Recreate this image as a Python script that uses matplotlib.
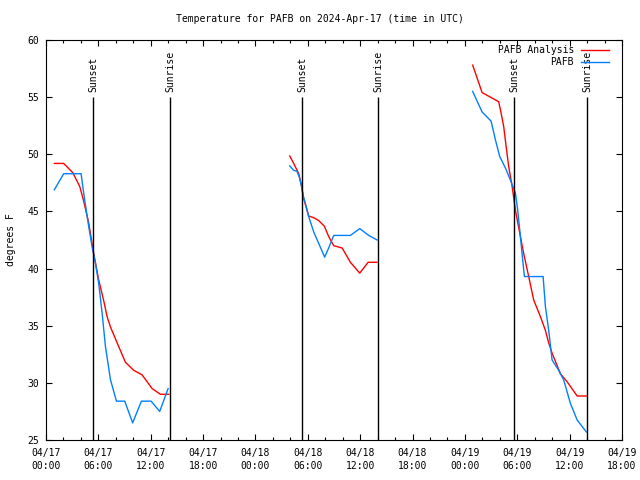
import matplotlib
matplotlib.use("Agg")
import matplotlib.pyplot as plt
import numpy as np

# time in hours since 2024-04-17 00:00 UTC
red_t1 = [0.96, 2.03, 3.06, 3.86, 4.32, 4.89, 5.47, 6.04, 6.61, 7.0, 7.38, 8.15, 9.1, 10.05, 11.01, 12.16, 13.11, 14.06]
red_v1 = [49.2, 49.2, 48.4, 47.2, 45.9, 44.0, 41.3, 39.0, 37.2, 35.8, 34.9, 33.5, 31.8, 31.1, 30.7, 29.5, 29.0, 29.0]
blue_t1 = [0.96, 2.03, 4.02, 4.32, 4.63, 4.89, 5.28, 5.66, 6.04, 6.43, 6.81, 7.38, 8.07, 9.02, 9.93, 10.93, 12.04, 13.03, 13.99]
blue_v1 = [46.9, 48.3, 48.3, 46.6, 45.0, 43.7, 41.9, 40.5, 38.7, 36.1, 33.2, 30.3, 28.4, 28.4, 26.5, 28.4, 28.4, 27.5, 29.5]

red_t2 = [27.93, 28.38, 28.96, 29.27, 29.53, 29.84, 30.1, 30.68, 31.25, 31.9, 32.39, 32.97, 33.93, 34.88, 35.95, 36.91, 37.94]
red_v2 = [49.85, 49.2, 48.3, 47.3, 46.1, 45.3, 44.6, 44.45, 44.2, 43.7, 42.8, 42.0, 41.8, 40.55, 39.6, 40.55, 40.55]
blue_t2 = [27.93, 28.38, 28.77, 29.07, 29.27, 29.46, 29.72, 30.1, 30.68, 31.25, 31.93, 32.39, 32.97, 34.88, 35.95, 36.98, 37.94]
blue_v2 = [48.98, 48.6, 48.5, 47.9, 47.2, 46.4, 45.7, 44.55, 43.2, 42.2, 41.0, 41.8, 42.9, 42.9, 43.5, 42.9, 42.5]

red_t3 = [48.89, 49.97, 51.87, 52.07, 52.45, 52.72, 53.02, 53.41, 53.79, 54.36, 54.74, 55.31, 55.88, 56.65, 57.22, 57.6, 57.99, 58.94, 59.71, 60.86, 61.92]
red_v3 = [57.8, 55.4, 54.6, 53.9, 52.4, 50.7, 48.9, 47.2, 45.1, 42.8, 41.3, 39.3, 37.25, 35.8, 34.6, 33.5, 32.6, 30.8, 30.1, 28.85, 28.85]
blue_t3 = [48.89, 49.97, 51.0, 51.5, 51.99, 52.64, 53.21, 53.79, 54.05, 54.36, 54.62, 54.82, 56.96, 57.22, 57.6, 57.99, 58.75, 59.32, 60.09, 60.86, 61.92]
blue_v3 = [55.5, 53.7, 52.9, 51.25, 49.8, 48.8, 47.75, 46.6, 45.1, 42.8, 40.75, 39.3, 39.3, 36.7, 34.6, 32.0, 31.1, 30.25, 28.2, 26.75, 25.7]

sunset_t = [5.43, 29.38, 53.67]
sunrise_t = [14.25, 38.09, 62.04]

xtick_hours = [0, 6, 12, 18, 24, 30, 36, 42, 48, 54, 60, 66]
xtick_labels = ["04/17\n00:00", "04/17\n06:00", "04/17\n12:00", "04/17\n18:00",
                "04/18\n00:00", "04/18\n06:00", "04/18\n12:00", "04/18\n18:00",
                "04/19\n00:00", "04/19\n06:00", "04/19\n12:00", "04/19\n18:00"]
yticks = [25, 30, 35, 40, 45, 50, 55, 60]

title = "Temperature for PAFB on 2024-Apr-17 (time in UTC)"

plt.rcParams['font.family'] = ['DejaVu Sans Mono']
fs = 7.0

fig = plt.figure(figsize=(6.4, 4.8), dpi=100)
ax = fig.add_axes([46/640, 40/480, 576/640, 400/480])

red = '#ff0000'
blue = '#0080ff'
for i, (rt, rv) in enumerate([(red_t1, red_v1), (red_t2, red_v2), (red_t3, red_v3)]):
    ax.plot(rt, rv, color=red, lw=1.0, label='PAFB Analysis' if i == 0 else None)
for i, (bt, bv) in enumerate([(blue_t1, blue_v1), (blue_t2, blue_v2), (blue_t3, blue_v3)]):
    ax.plot(bt, bv, color=blue, lw=1.0, label='PAFB' if i == 0 else None)

for t in sunset_t:
    ax.vlines(t, 25, 55.0, color='black', lw=1.0)
    ax.text(t, 55.45, 'Sunset', rotation=90, ha='center', va='bottom', fontsize=fs)
for t in sunrise_t:
    ax.vlines(t, 25, 55.0, color='black', lw=1.0)
    ax.text(t, 55.45, 'Sunrise', rotation=90, ha='center', va='bottom', fontsize=fs)

ax.set_xlim(0, 66)
ax.set_ylim(25, 60)
ax.set_xticks(xtick_hours)
ax.set_xticklabels(xtick_labels, fontsize=fs, linespacing=1.3)
ax.set_xticks(np.arange(0, 67, 2), minor=True)
ax.set_yticks(yticks)
ax.set_yticklabels([str(v) for v in yticks], fontsize=fs)
ax.tick_params(which='both', direction='in', top=True, right=True, width=0.8)
ax.tick_params(which='major', length=4.5)
ax.tick_params(axis='x', which='major', pad=6)
ax.tick_params(axis='y', which='major', pad=5)
ax.tick_params(which='minor', length=2.5)
for s in ax.spines.values():
    s.set_linewidth(0.8)

ax.set_ylabel('degrees F', fontsize=fs, labelpad=8)
fig.text(0.5, 1 - 19/480, title, ha='center', va='center', fontsize=fs)

leg = ax.legend(loc='upper right', bbox_to_anchor=(609/640, 1 - 45/480),
                bbox_transform=fig.transFigure, markerfirst=False, frameon=False,
                fontsize=fs, handlelength=2.9, handletextpad=0.7, labelspacing=0.25,
                borderaxespad=0.0, borderpad=0.0)

fig.savefig('out.png', dpi=100)
